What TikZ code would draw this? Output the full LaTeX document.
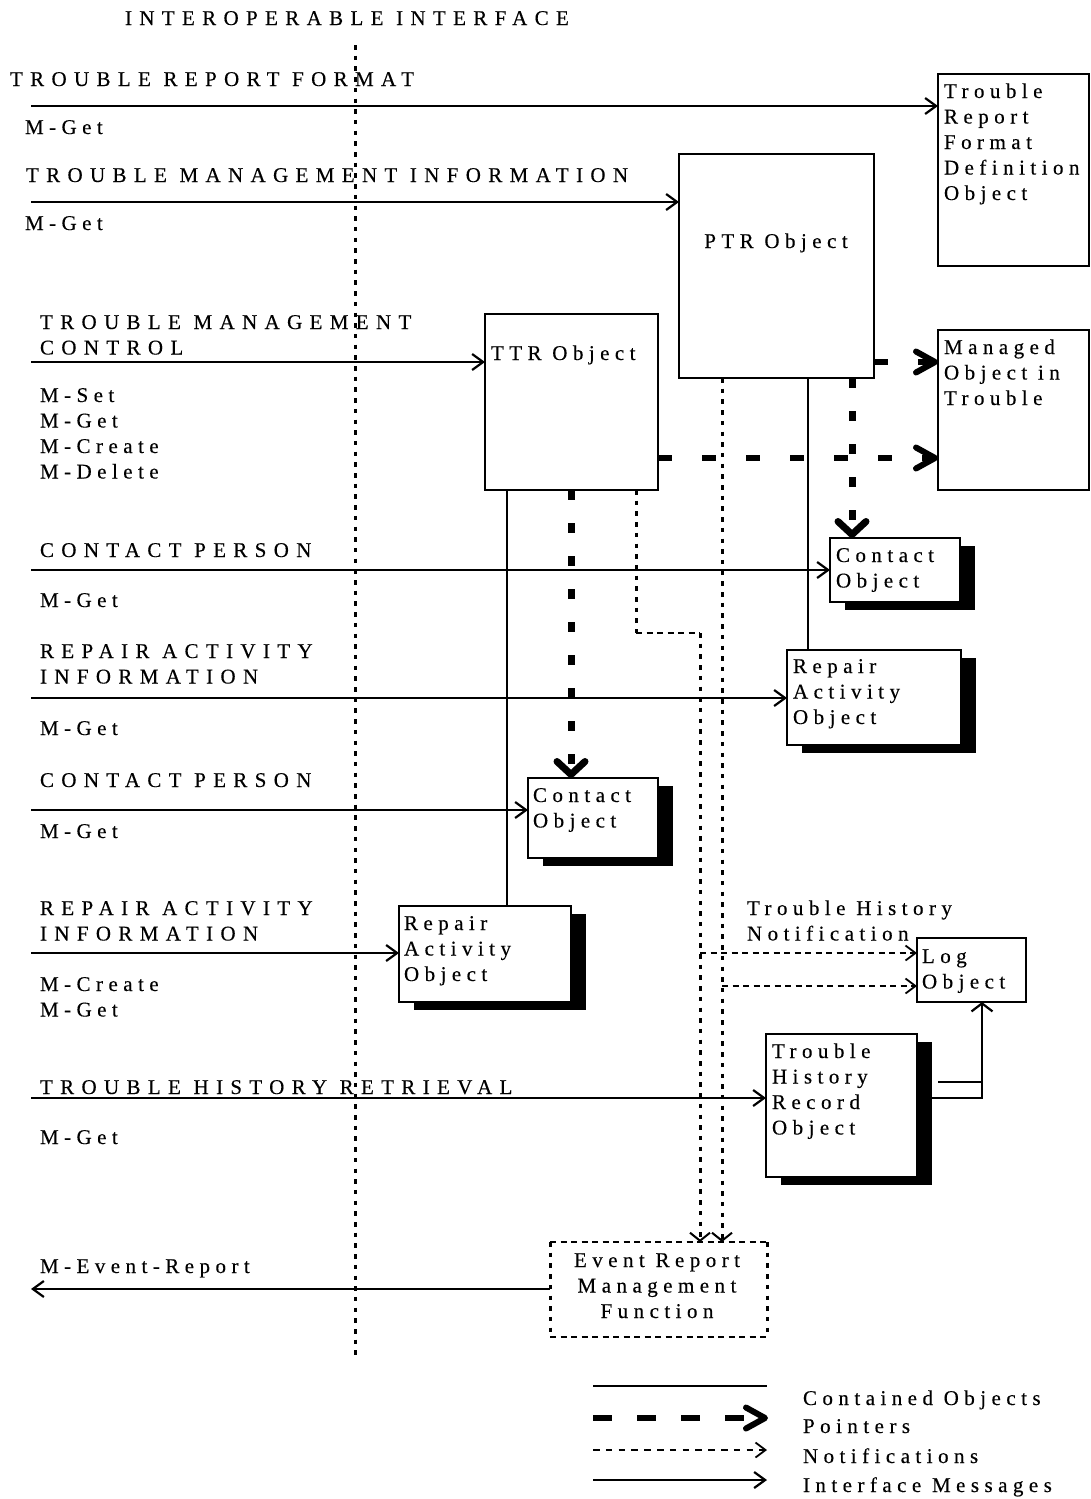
\documentclass[tikz,border=0pt]{standalone}
\usepackage{fontspec}
\setmainfont{Liberation Serif}[LetterSpace=26,FakeBold=0.3]
\newfontfamily\capsfont{Liberation Serif}[LetterSpace=35,FakeBold=0.3]
\usetikzlibrary{arrows.meta,shadows}

% stacked lines whose first baseline is the node's base
\newcommand{\leftlines}[1]{\begin{tabular}[t]{@{}l@{}}#1\end{tabular}}
\newcommand{\centerlines}[1]{\begin{tabular}[t]{@{}c@{}}#1\end{tabular}}

\begin{document}
\begin{tikzpicture}[x=1pt,y=-1pt,
  every node/.style={inner sep=0pt,outer sep=0pt},
  txt/.style={anchor=base west,font=\fontsize{21}{25.5}\selectfont},
  ctxt/.style={anchor=base,font=\fontsize{21}{25.5}\selectfont},
  captxt/.style={anchor=base west,font=\fontsize{21}{25.5}\selectfont\capsfont},
  obj/.style={draw,line width=2.4pt,fill=white,anchor=north west},
  sobj/.style={obj,drop shadow={shadow xshift=14.5pt,shadow yshift=-7.5pt,opacity=1,fill=black}},
  cont/.style={line width=2.2pt},
  msg/.style={line width=2.2pt,-{Straight Barb[length=11pt,width=16pt]}},
  msgv/.style={line width=2.2pt,-{Straight Barb[length=8pt,width=21pt]}},
  ptrh/.style={line width=6pt,dash pattern=on 14pt off 30pt,-{Straight Barb[length=19pt,width=21pt,round]}},
  ptrv/.style={line width=7pt,dash pattern=on 10pt off 23pt,-{Straight Barb[length=13pt,width=28pt,round]}},
  notev/.style={line width=3pt,dash pattern=on 4.5pt off 6.2pt},
  noteh/.style={line width=1.8pt,dash pattern=on 6pt off 4.5pt},
  tiph/.style={-{Straight Barb[length=10pt,width=15pt,line width=1.8pt]}},
  tipv/.style={-{Straight Barb[length=8pt,width=20pt,line width=2pt]}},
  ifline/.style={line width=3pt,dash pattern=on 4.5pt off 6.2pt}
]
\useasboundingbox (0,0) rectangle (1090,1499);

% ---------- object boxes ----------
\node[obj,minimum width=151pt,minimum height=192pt] (trfd) at (938,74) {};
\node[obj,minimum width=195pt,minimum height=224pt] (ptr) at (679,154) {};
\node[obj,minimum width=173pt,minimum height=176pt] (ttr) at (485,314) {};
\node[obj,minimum width=151pt,minimum height=160pt] (mot) at (938,330) {};
\node[sobj,minimum width=130pt,minimum height=64pt] (cpa) at (830,538) {};
\node[sobj,minimum width=174pt,minimum height=95pt] (raa) at (787,650) {};
\node[sobj,minimum width=130pt,minimum height=80pt] (cpb) at (528,778) {};
\node[sobj,minimum width=172pt,minimum height=96pt] (rab) at (399,906) {};
\node[obj,minimum width=109pt,minimum height=64pt] (log) at (917,938) {};
\node[sobj,minimum width=151pt,minimum height=143pt] (thr) at (766,1034) {};
\node[anchor=north west,minimum width=217pt,minimum height=95pt] (ermf) at (550,1242) {};

% box captions
\node[txt] (trfdt) at (944,98) {\leftlines{Trouble\\Report\\Format\\Definition\\Object}};
\node[ctxt] (ptrt) at (776,248) {PTR Object};
\node[txt] (ttrt) at (491,360) {TTR Object};
\node[txt] (mott) at (944,354) {\leftlines{Managed\\Object in\\Trouble}};
\node[txt] (cpat) at (836,562) {\leftlines{Contact\\Object}};
\node[txt] (raat) at (793,673) {\leftlines{Repair\\Activity\\Object}};
\node[txt] (cpbt) at (533,802) {\leftlines{Contact\\Object}};
\node[txt] (rabt) at (404,930) {\leftlines{Repair\\Activity\\Object}};
\node[txt] (logt) at (922,963) {\leftlines{Log\\Object}};
\node[txt] (thrt) at (772,1058) {\leftlines{Trouble\\History\\Record\\Object}};
\node[ctxt] (ermft) at (657,1267) {\centerlines{Event Report\\Management\\Function}};
\node[txt] (thnt) at (747,915) {\leftlines{Trouble History\\Notification}};

% event report function border
\draw[noteh] (ermf.north west) -- (ermf.north east);
\draw[noteh] (ermf.south west) -- (ermf.south east);
\draw[notev] (ermf.north west) -- (ermf.south west);
\draw[notev] (ermf.north east) -- (ermf.south east);

% ---------- interface labels ----------
\node[captxt] (title) at (125,25) {INTEROPERABLE INTERFACE};
\node[captxt] (l1) at (10,86) {TROUBLE REPORT FORMAT};
\node[txt] (g1) at (25,134) {M-Get};
\node[captxt] (l2) at (26,182) {TROUBLE MANAGEMENT INFORMATION};
\node[txt] (g2) at (25,230) {M-Get};
\node[captxt] (l3) at (40,329) {\leftlines{TROUBLE MANAGEMENT\\CONTROL}};
\node[txt] (g3) at (40,402) {\leftlines{M-Set\\M-Get\\M-Create\\M-Delete}};
\node[captxt] (l4) at (40,557) {CONTACT PERSON};
\node[txt] (g4) at (40,607) {M-Get};
\node[captxt] (l5) at (40,658) {\leftlines{REPAIR ACTIVITY\\INFORMATION}};
\node[txt] (g5) at (40,735) {M-Get};
\node[captxt] (l6) at (40,787) {CONTACT PERSON};
\node[txt] (g6) at (40,838) {M-Get};
\node[captxt] (l7) at (40,915) {\leftlines{REPAIR ACTIVITY\\INFORMATION}};
\node[txt] (g7) at (40,991) {\leftlines{M-Create\\M-Get}};
\node[captxt] (l8) at (40,1094) {TROUBLE HISTORY RETRIEVAL};
\node[txt] (g8) at (40,1144) {M-Get};
\node[txt] (l9) at (40,1273) {M-Event-Report};

% interoperable interface boundary
\coordinate (i1) at (355,45);
\coordinate (i2) at (355,1356);
\draw[ifline] (i1) -- (i2);

% ---------- interface messages ----------
\coordinate (m1) at (31,106);  \draw[msg] (m1) -- (m1 -| trfd.west);
\coordinate (m2) at (31,202);  \draw[msg] (m2) -- (m2 -| ptr.west);
\coordinate (m3) at (31,362);  \draw[msg] (m3) -- (m3 -| ttr.west);
\coordinate (m4) at (31,570);  \draw[msg] (m4) -- (m4 -| cpa.west);
\coordinate (m5) at (31,698);  \draw[msg] (m5) -- (m5 -| raa.west);
\coordinate (m6) at (31,810);  \draw[msg] (m6) -- (m6 -| cpb.west);
\coordinate (m7) at (31,953);  \draw[msg] (m7) -- (m7 -| rab.west);
\coordinate (m8) at (31,1098); \draw[msg] (m8) -- (m8 -| thr.west);
\coordinate (m9) at (31,1289); \draw[msg] (m9 -| ermf.west) -- (m9);

% ---------- pointers ----------
\coordinate (p1) at (0,362); \draw[ptrh] (p1 -| ptr.east) -- (p1 -| mot.west);
\coordinate (p2) at (0,458); \draw[ptrh] (p2 -| ttr.east) -- (p2 -| mot.west);
\coordinate (p3) at (852,0); \draw[ptrv] (p3 |- ptr.south) -- (p3 |- cpa.north);
\coordinate (p4) at (571,0); \draw[ptrv] (p4 |- ttr.south) -- (p4 |- cpb.north);

% ---------- contained objects ----------
\coordinate (c1) at (808,0); \draw[cont] (c1 |- ptr.south) -- (c1 |- raa.north);
\coordinate (c2) at (507,0); \draw[cont] (c2 |- ttr.south) -- (c2 |- rab.north);
\coordinate (c3) at (938,1082); \coordinate (c4) at (982,1082);
\coordinate (c5) at (931,1098); \coordinate (c6) at (982,1098);
\draw[cont] (c3) -- (c4);
\draw[msgv] (c5) -- (c6) -- (c6 |- log.south);

% ---------- notifications ----------
\coordinate (n0) at (636,0); \coordinate (n1) at (636,633); \coordinate (n2) at (700,633);
\draw[notev] (n0 |- ttr.south) -- (n1);
\draw[noteh] (n1) -- (n2);
\draw[notev,tipv] (n2) -- (n2 |- ermf.north);
\coordinate (n3) at (722,0);
\draw[notev,tipv] (n3 |- ptr.south) -- (n3 |- ermf.north);
\coordinate (n4) at (700,953); \draw[noteh,tiph] (n4) -- (n4 -| log.west);
\coordinate (n5) at (722,986); \draw[noteh,tiph] (n5) -- (n5 -| log.west);

% ---------- legend ----------
\coordinate (la1) at (593,1386); \coordinate (lb1) at (767,1386);
\coordinate (la2) at (593,1418); \coordinate (lb2) at (768,1418);
\coordinate (la3) at (593,1450); \coordinate (lb3) at (767,1450);
\coordinate (la4) at (593,1480); \coordinate (lb4) at (767,1480);
\draw[cont] (la1) -- (lb1);
\draw[ptrh,dash pattern=on 19pt off 25pt] (la2) -- (lb2);
\draw[noteh,dash pattern=on 6.5pt off 6.3pt,tiph] (la3) -- (lb3);
\draw[msg] (la4) -- (lb4);
\node[txt] (k1) at (803,1405) {Contained Objects};
\node[txt] (k2) at (803,1433) {Pointers};
\node[txt] (k3) at (803,1463) {Notifications};
\node[txt] (k4) at (803,1492) {Interface Messages};
\end{tikzpicture}
\end{document}
